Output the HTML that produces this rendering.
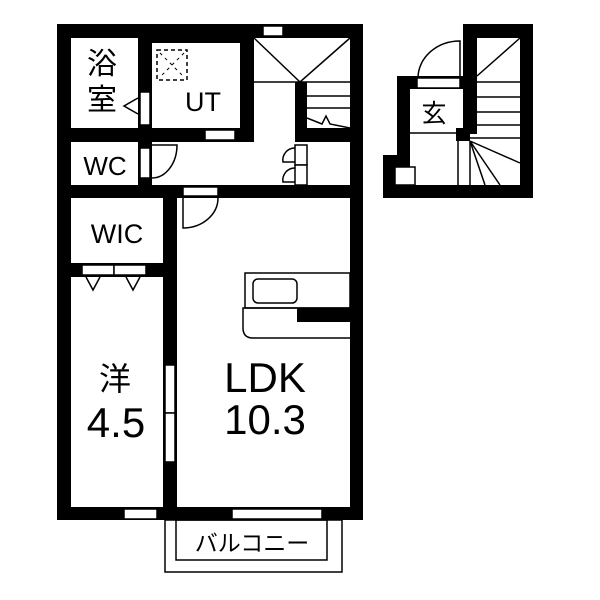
<!DOCTYPE html>
<html><head><meta charset="utf-8"><style>
html,body{margin:0;padding:0;background:#fff}
svg{display:block}
text{font-family:"Liberation Sans","Noto Sans CJK JP",sans-serif;fill:#000}
</style></head><body>
<svg width="600" height="600" viewBox="0 0 600 600" xmlns="http://www.w3.org/2000/svg">
<rect width="600" height="600" fill="#fff"/>
<g fill="#000">
<!-- outer walls -->
<rect x="57" y="24" width="306" height="14"/>
<rect x="57" y="24" width="14" height="496"/>
<rect x="350" y="24" width="13" height="496"/>
<rect x="57" y="507" width="306" height="13"/>
<!-- interior -->
<rect x="138" y="38" width="14" height="104"/>
<rect x="152" y="38" width="98" height="5"/>
<rect x="240" y="38" width="14" height="104"/>
<rect x="57" y="128" width="197" height="14"/>
<rect x="138" y="142" width="14" height="43"/>
<rect x="295" y="82" width="12" height="60"/>
<rect x="307" y="128" width="43" height="14"/>
<rect x="57" y="185" width="306" height="13"/>
<rect x="163" y="198" width="14" height="310"/>
<rect x="57" y="263" width="110" height="14"/>
<!-- entrance block -->
<rect x="463" y="24" width="70" height="14"/>
<rect x="463" y="24" width="14" height="110"/>
<rect x="520" y="24" width="13" height="174"/>
<rect x="397" y="76" width="66" height="13"/>
<rect x="397" y="76" width="13" height="110"/>
<rect x="383" y="155" width="14" height="43"/>
<rect x="383" y="185" width="150" height="13"/>
<rect x="456" y="128" width="14" height="13"/>
</g>
<g fill="#fff" stroke="#000" stroke-width="1.5">
<!-- windows -->
<rect x="263" y="26" width="20" height="10"/>
<rect x="205" y="130" width="30" height="10"/>
<rect x="140" y="92" width="10" height="33"/>
<rect x="140" y="148" width="10" height="30"/>
<rect x="183" y="187" width="35" height="9"/>
<rect x="82" y="265" width="32" height="10"/>
<rect x="114" y="265" width="32" height="10"/>
<rect x="165" y="365" width="10" height="48"/>
<rect x="165" y="413" width="10" height="49"/>
<rect x="124" y="509" width="33" height="10"/>
<rect x="232" y="509" width="90" height="10"/>
<rect x="295" y="145" width="12" height="20"/>
<rect x="295" y="165" width="12" height="20"/>
<rect x="417" y="78" width="43" height="10"/>
<rect x="395" y="167" width="20" height="18"/>
</g>
<g fill="none" stroke="#000" stroke-width="1.5">
<!-- bath door triangle -->
<polyline points="138,98 124,106 138,114"/>
<!-- doors -->
<path d="M152,145 L177,145 A25,33 0 0 1 152,178"/>
<path d="M183,198 L183,228 A35,30 0 0 0 218,198"/>
<path d="M295,148 A12,12 0 0 0 283,162 L295,162 M295,168 A12,12 0 0 0 283,182 L295,182"/>
<path d="M460,78 L460,41 A42,37 0 0 0 418,78"/>
<!-- wic triangles -->
<polyline points="86,277 93,290 100,277"/>
<polyline points="126,277 133,290 140,277"/>
<!-- stairs top -->
<path d="M254,38 L300,82 L350,38 M254,82 L350,82"/>
<path d="M307,96 L350,96 M307,108 L350,108 M307,118 L322,124 L326,116 L330,124 L350,128"/>
<!-- entrance stairs -->
<path d="M477,76 L520,38 M477,82 L520,82 M477,97 L520,97 M477,112 L520,112 M477,125 L520,125"/>
<path d="M410,133 L456,133 M458,141 L458,185 M470,141 L470,185"/>
<path d="M470,138 L520,138 M470,141 L520,163 M470,141 L500,185 M470,141 L485,185"/>
<!-- dashed square -->
<rect x="157" y="50" width="30" height="30" stroke-dasharray="4,3"/>
<path d="M160,53 L184,77 M184,53 L160,77" stroke-dasharray="3,4" stroke-width="1"/>
<!-- kitchen -->
<rect x="245" y="273" width="105" height="35"/>
<rect x="253" y="279" width="44" height="24" rx="5"/>
<path d="M350,308 L243,308 L243,328 Q243,338 253,338 L350,338"/>
<!-- balcony -->
<rect x="165" y="520" width="177" height="52"/>
<rect x="176" y="520" width="151" height="40"/>
</g>
<rect x="297" y="308" width="53" height="14" fill="#000"/>
<text x="102" y="74" font-size="30" text-anchor="middle">浴</text>
<text x="102" y="110" font-size="30" text-anchor="middle">室</text>
<text x="203" y="111" font-size="27" text-anchor="middle">UT</text>
<text x="105" y="175" font-size="26" text-anchor="middle">WC</text>
<text x="117" y="243" font-size="27" text-anchor="middle">WIC</text>
<text x="115" y="390" font-size="32" text-anchor="middle">洋</text>
<text x="116" y="437" font-size="42" text-anchor="middle">4.5</text>
<text x="265" y="392" font-size="42" text-anchor="middle">LDK</text>
<text x="265" y="434" font-size="42" text-anchor="middle">10.3</text>
<text x="434" y="122" font-size="25" text-anchor="middle">玄</text>
<text x="252" y="551" font-size="23" text-anchor="middle">バルコニー</text>
</svg>
</body></html>
